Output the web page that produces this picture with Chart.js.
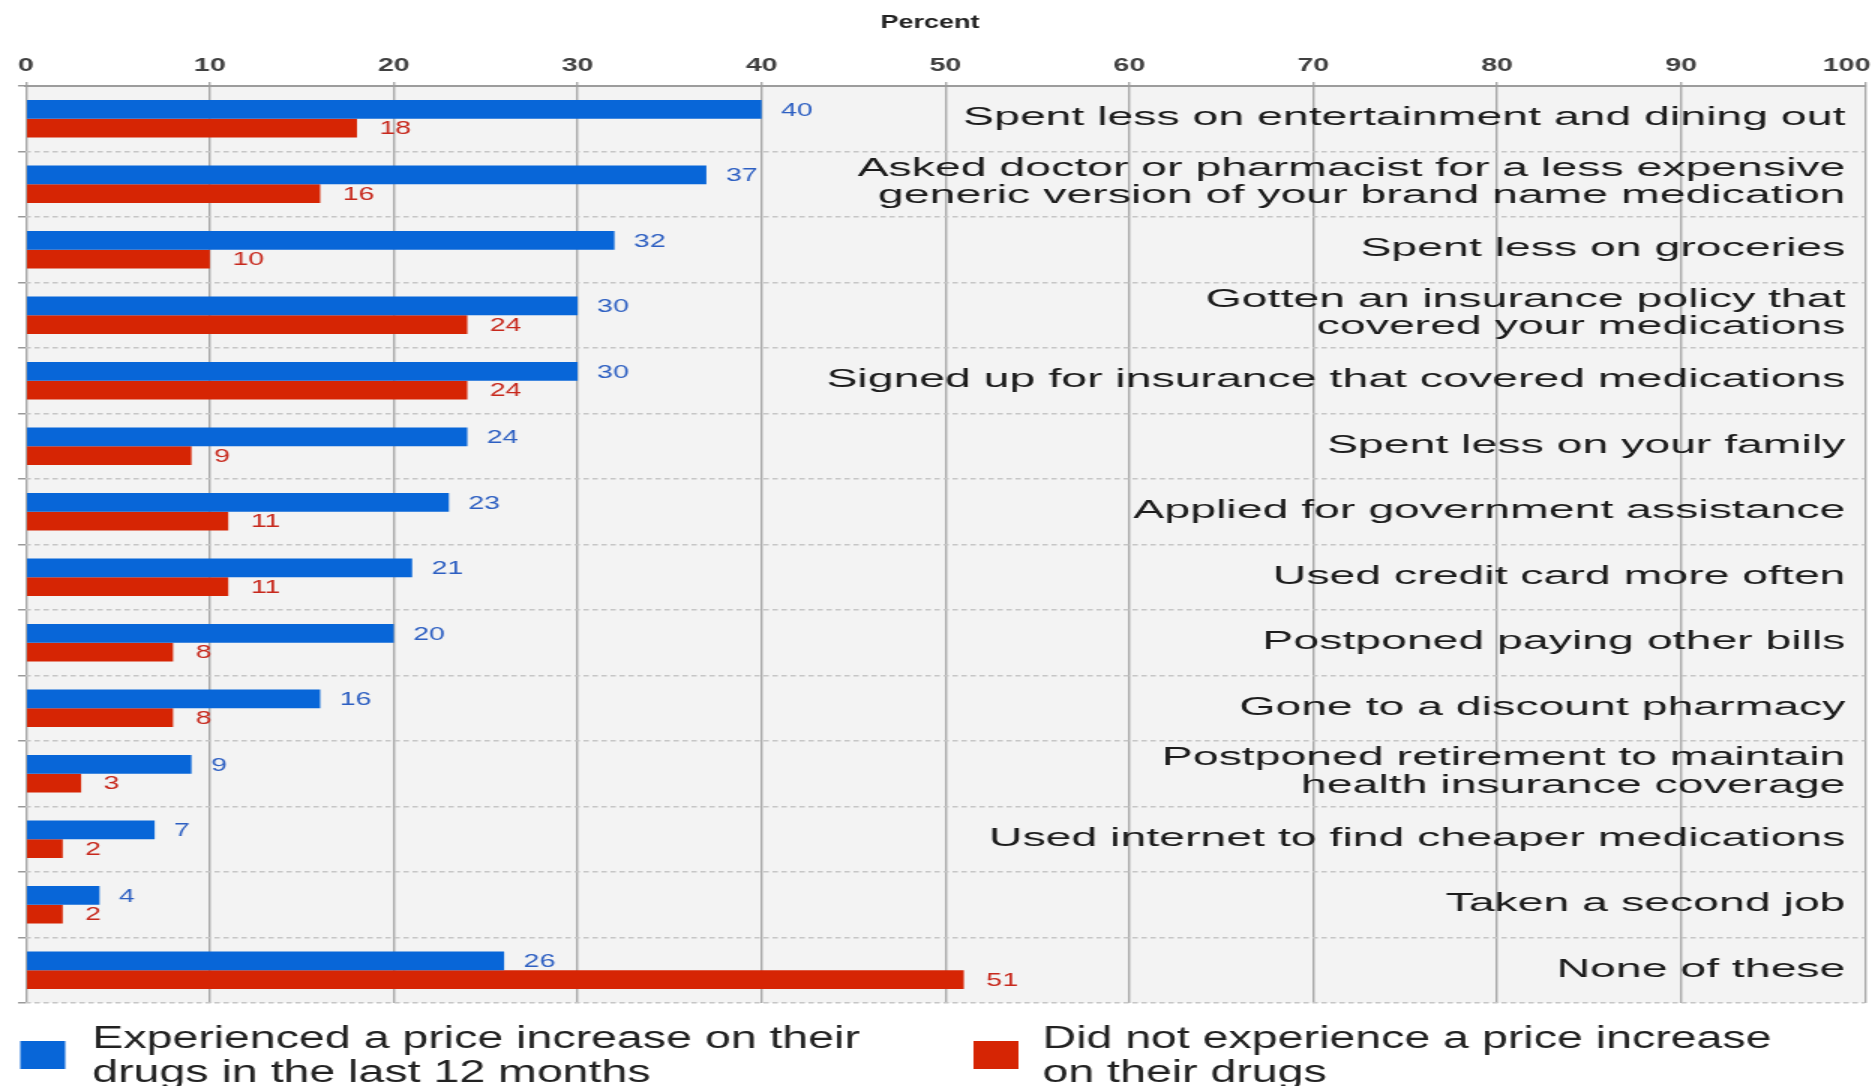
<!DOCTYPE html>
<html>
<head>
<meta charset="utf-8">
<script src="https://cdn.jsdelivr.net/npm/chart.js@4.4.1/dist/chart.umd.min.js"></script>
<style>
  html, body { margin: 0; padding: 0; background: #ffffff; overflow: hidden; }
  #wrap { width: 1248px; height: 1086px; transform: scaleX(1.5); transform-origin: 0 0; }
  canvas { display: block; }
</style>
</head>
<body>
<div id="wrap"><canvas id="c" width="1248" height="1086" style="width:1248px;height:1086px"></canvas></div>
<script>
const categories = [
  ["Spent less on entertainment and dining out"],
  ["Asked doctor or pharmacist for a less expensive", "generic version of your brand name medication"],
  ["Spent less on groceries"],
  ["Gotten an insurance policy that", "covered your medications"],
  ["Signed up for insurance that covered medications"],
  ["Spent less on your family"],
  ["Applied for government assistance"],
  ["Used credit card more often"],
  ["Postponed paying other bills"],
  ["Gone to a discount pharmacy"],
  ["Postponed retirement to maintain", "health insurance coverage"],
  ["Used internet to find cheaper medications"],
  ["Taken a second job"],
  ["None of these"]
];
const increaseValues = [40, 37, 32, 30, 30, 24, 23, 21, 20, 16, 9, 7, 4, 26];
const noIncreaseValues = [18, 16, 10, 24, 24, 9, 11, 11, 8, 8, 3, 2, 2, 51];
const xTickLabels = [0, 10, 20, 30, 40, 50, 60, 70, 80, 90, 100];
const axisTitle = "Percent";
const legendLabels = [
  ["Experienced a price increase on their", "drugs in the last 12 months"],
  ["Did not experience a price increase", "on their drugs"]
];

const FONT = '"Liberation Sans", Arial, Helvetica, sans-serif';
const BLUE = '#0866d8';
const RED = '#d62504';
const BLUE_TXT = '#2d5fc2';
const RED_TXT = '#c7281c';

const bgPlugin = {
  id: 'bg',
  beforeDraw(chart) {
    const {ctx, chartArea: a} = chart;
    ctx.save();
    ctx.fillStyle = '#f3f3f3';
    ctx.fillRect(a.left, a.top, a.right - a.left, a.bottom - a.top);
    ctx.restore();
  }
};

const textPlugin = {
  id: 'texts',
  afterDatasetsDraw(chart) {
    const {ctx, chartArea: a} = chart;
    const ys = chart.scales.y;
    ctx.save();
    // category labels inside plot, right aligned, glyphs widened
    ctx.font = '26px ' + FONT;
    ctx.fillStyle = '#1c1c1c';
    ctx.textAlign = 'right';
    ctx.textBaseline = 'middle';
    const sx = 1.19;
    categories.forEach((lines, i) => {
      const cy = ys.getPixelForValue(i);
      const lh = 27.5;
      const off = lines.length > 1 ? -2 : -0.5;
      lines.forEach((t, j) => {
        ctx.save();
        ctx.translate(a.right - 13, cy + off + (j - (lines.length - 1) / 2) * lh);
        ctx.scale(sx, 1);
        ctx.fillText(t, 0, 0);
        ctx.restore();
      });
    });
    // value labels
    ctx.font = '19px ' + FONT;
    ctx.textAlign = 'left';
    [0, 1].forEach(d => {
      const meta = chart.getDatasetMeta(d);
      const vals = chart.data.datasets[d].data;
      ctx.fillStyle = d === 0 ? BLUE_TXT : RED_TXT;
      meta.data.forEach((bar, i) => {
        ctx.fillText(String(vals[i]), bar.x + (d === 0 ? 13 : 15), bar.y + 1);
      });
    });
    ctx.restore();
  },
  afterDraw(chart) {
    const {ctx, width} = chart;
    const xs = chart.scales.x;
    ctx.save();
    // axis title
    ctx.font = 'bold 18px ' + FONT;
    ctx.fillStyle = '#222';
    ctx.textAlign = 'center';
    ctx.textBaseline = 'middle';
    ctx.fillText(axisTitle, 620, 23.5);
    // x tick labels
    ctx.font = 'bold 19px ' + FONT;
    ctx.fillStyle = '#404040';
    xTickLabels.forEach(v => {
      const t = String(v);
      const w = ctx.measureText(t).width;
      let px = xs.getPixelForValue(v);
      px = Math.min(px, width - w / 2 - 1);
      px = Math.max(px, w / 2 + 8);
      ctx.fillText(t, px, 66);
    });
    // legend
    const items = [
      {color: BLUE, box: 13.5, text: 61.5, lines: legendLabels[0]},
      {color: RED, box: 649, text: 695, lines: legendLabels[1]}
    ];
    items.forEach(it => {
      ctx.fillStyle = it.color;
      ctx.fillRect(it.box, 1041, 30, 28);
      ctx.fillStyle = '#222222';
      ctx.font = '31px ' + FONT;
      ctx.textAlign = 'left';
      ctx.textBaseline = 'alphabetic';
      it.lines.forEach((t, j) => ctx.fillText(t, it.text, 1048 + j * 34));
    });
    ctx.restore();
  }
};

new Chart(document.getElementById('c'), {
  type: 'bar',
  data: {
    labels: categories.map(l => l.join(' ')),
    datasets: [
      {label: legendLabels[0].join(' '), data: increaseValues, backgroundColor: BLUE,
       categoryPercentage: 0.57, barPercentage: 1.0},
      {label: legendLabels[1].join(' '), data: noIncreaseValues, backgroundColor: RED,
       categoryPercentage: 0.57, barPercentage: 1.0}
    ]
  },
  options: {
    indexAxis: 'y',
    responsive: false,
    animation: false,
    devicePixelRatio: 1,
    layout: {padding: {top: 82, left: 12, right: 4.7, bottom: 83}},
    plugins: {legend: {display: false}, tooltip: {enabled: false}, title: {display: false}},
    scales: {
      x: {
        position: 'top',
        min: 0, max: 100,
        ticks: {display: false, stepSize: 10},
        grid: {color: '#a9a9a9', lineWidth: 1.4, tickLength: 4, tickColor: '#a9a9a9'},
        border: {display: true, color: '#9c9c9c', width: 2}
      },
      y: {
        ticks: {display: false},
        grid: {color: '#c6c6c6', lineWidth: 1.5, offset: true, tickLength: 5.3, tickColor: '#9a9a9a', tickWidth: 1.5},
        border: {display: false, dash: [3.5, 2.5]}
      }
    }
  },
  plugins: [bgPlugin, textPlugin]
});
</script>
</body>
</html>
